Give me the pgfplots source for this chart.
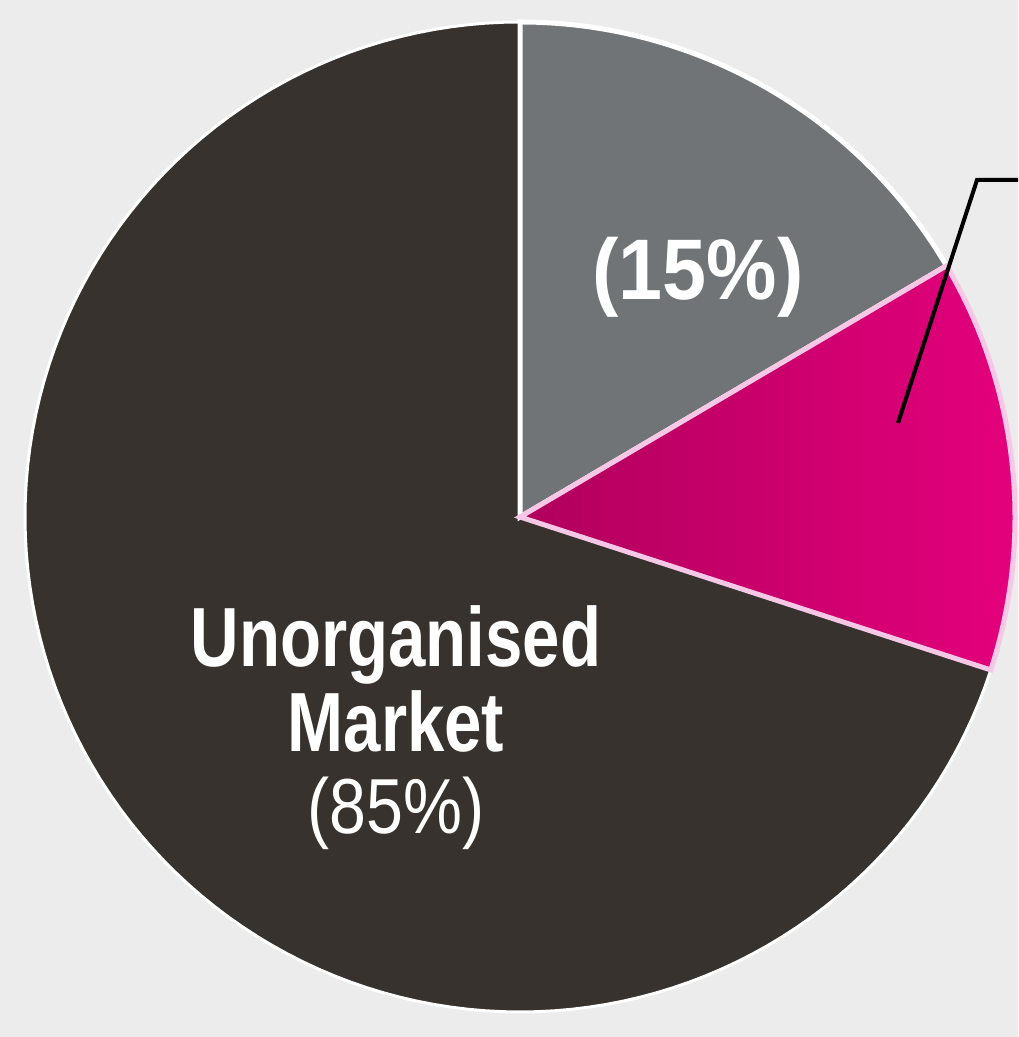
\documentclass[border=0pt]{standalone}
\usepackage{pgfplots}
\pgfplotsset{compat=1.18}
\usepackage{fontspec}
\setmainfont{Liberation Sans}
\newfontfamily\pctfont[FakeStretch=0.92]{Liberation Sans}
\newfontfamily\condfont[FakeStretch=0.80]{Liberation Sans}
\newfontfamily\lightfont[FakeStretch=0.85]{Liberation Sans}

\definecolor{bgc}{HTML}{ECECEC}
\definecolor{darkc}{HTML}{38322F}
\definecolor{grayc}{HTML}{717476}
\definecolor{pinkL}{HTML}{B0005C}
\definecolor{pinkR}{HTML}{E4007C}
\definecolor{pinkedge}{HTML}{F6C8E6}

\begin{document}
\begin{tikzpicture}
\begin{axis}[
    scale only axis, hide axis,
    x=247.5pt, y=247.5pt,
    xmin=-1.0505, xmax=1.0061, ymin=-1.0505, ymax=1.0444,
]
\fill[bgc] (rel axis cs:0,0) rectangle (rel axis cs:1,1);

% whole pie (unorganised market), radius 1
\addplot[fill=darkc, draw=white, line width=1.5pt, data cs=polar,
    domain=0:360, samples=181] ({x},{1}) -- cycle;

% slice boundaries in degrees: grey 30.5..90, pink -18..30.5
\addplot[fill=grayc, draw=white, line width=2.5pt, line join=miter, data cs=polar,
    domain=30.5:90, samples=60] ({x},{1}) -- (axis cs:0,0) -- cycle;
\addplot[left color=pinkL, right color=pinkR, draw=pinkedge, line width=2.5pt,
    line join=miter, data cs=polar,
    domain=-18:30.5, samples=50] ({x},{1}) -- (axis cs:0,0) -- cycle;

% leader line
\addplot[black, line width=2pt, line join=miter] coordinates
    {(0.7636,0.1899) (0.9232,0.6808) (1.02,0.6808)};

\node[anchor=base, text=white, font=\pctfont\bfseries\fontsize{43}{43}\selectfont]
    at (axis cs:0.3596,0.4384) {(15\%)};
\node[anchor=base, text=white, font=\condfont\bfseries\fontsize{42}{42}\selectfont]
    at (axis cs:-0.2505,-0.3030) {Unorganised};
\node[anchor=base, text=white, font=\condfont\bfseries\fontsize{42}{42}\selectfont]
    at (axis cs:-0.2505,-0.4747) {Market};
\node[anchor=base, text=white, font=\lightfont\fontsize{39}{39}\selectfont]
    at (axis cs:-0.2505,-0.6384) {(85\%)};
\end{axis}
\end{tikzpicture}
\end{document}
